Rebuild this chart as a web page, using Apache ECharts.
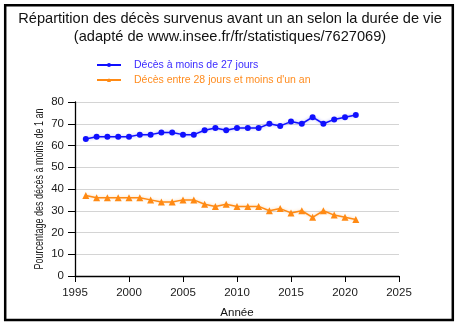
<!DOCTYPE html>
<html>
<head>
<meta charset="utf-8">
<script src="https://cdn.jsdelivr.net/npm/echarts@6/dist/echarts.min.js"></script>
<style>
  html, body { margin: 0; padding: 0; background: #fff; }
  #chart { width: 460px; height: 331px; }
</style>
</head>
<body>
<div id="chart"></div>
<script>
// Years covered by both series
const years = [1996, 1997, 1998, 1999, 2000, 2001, 2002, 2003, 2004, 2005, 2006, 2007, 2008,
               2009, 2010, 2011, 2012, 2013, 2014, 2015, 2016, 2017, 2018, 2019, 2020, 2021];
// Share (%) of infant deaths occurring before 27 days
const moins27 = [63, 64, 64, 64, 64, 65, 65, 66, 66, 65, 65, 67, 68,
                 67, 68, 68, 68, 70, 69, 71, 70, 73, 70, 72, 73, 74];
// Share (%) of infant deaths between 28 days and one year
const entre28 = [37, 36, 36, 36, 36, 36, 35, 34, 34, 35, 35, 33, 32,
                 33, 32, 32, 32, 30, 31, 29, 30, 27, 30, 28, 27, 26];
const seriesNames = ['Décès à moins de 27 jours', 'Décès entre 28 jours et moins d\'un an'];
const xTicks = [1995, 2000, 2005, 2010, 2015, 2020, 2025];
const yTicks = [0, 10, 20, 30, 40, 50, 60, 70, 80];
const yTitle = 'Pourcentage des décès à moins de 1 an';

const pairs = vals => years.map((y, i) => [y, vals[i]]);
const FONT = '"Liberation Sans", Arial, sans-serif';

const GRID = { left: 75, right: 61, top: 102, bottom: 55 };

const chart = echarts.init(document.getElementById('chart'), null, { renderer: 'canvas' });
chart.setOption({
  animation: false,
  backgroundColor: '#fff',
  title: {
    text: 'Répartition des décès survenus avant un an selon la durée de vie\n(adapté de www.insee.fr/fr/statistiques/7627069)',
    left: 'center',
    top: 5,
    textStyle: { fontFamily: FONT, fontSize: 14.6, fontWeight: 'normal', color: '#111', lineHeight: 18 }
  },
  legend: {
    orient: 'vertical',
    left: 91,
    top: 54,
    itemWidth: 24,
    itemHeight: 5,
    itemGap: 3,
    data: seriesNames.map((n, i) => ({
      name: n,
      textStyle: { color: i === 0 ? '#3b2bff' : '#ff8c1f' }
    })),
    textStyle: { fontFamily: FONT, fontSize: 10.5, lineHeight: 12, padding: [0, 0, 0, 8] }
  },
  grid: Object.assign({ containLabel: false }, GRID),
  xAxis: {
    type: 'value',
    min: xTicks[0],
    max: xTicks[xTicks.length - 1],
    interval: 5,
    name: 'Année',
    nameLocation: 'middle',
    nameGap: 31,
    nameTextStyle: { fontFamily: FONT, fontSize: 11.5, color: '#111' },
    axisLine: { lineStyle: { color: '#000', width: 1.3 } },
    axisTick: { length: 6, lineStyle: { color: '#000' } },
    axisLabel: { fontFamily: FONT, fontSize: 11.5, color: '#1a1a1a', margin: 11,
                 formatter: v => String(v) },
    splitLine: { show: false }
  },
  yAxis: {
    type: 'value',
    min: yTicks[0],
    max: yTicks[yTicks.length - 1],
    interval: 10,
    axisLine: { show: true, lineStyle: { color: '#000', width: 1.3 } },
    axisTick: { show: true, length: 7, lineStyle: { color: '#000' } },
    axisLabel: { fontFamily: FONT, fontSize: 11.5, color: '#1a1a1a', margin: 11 },
    splitLine: { show: true, lineStyle: { color: '#d4d4d4', width: 1 } }
  },
  series: [
    {
      name: seriesNames[0],
      type: 'line',
      data: pairs(moins27),
      color: '#1010ff',
      symbol: 'circle',
      symbolSize: 6,
      lineStyle: { width: 1.5, color: '#1010ff', shadowColor: 'rgba(40,40,255,0.45)', shadowBlur: 3 },
      itemStyle: { color: '#1010ff' }
    },
    {
      name: seriesNames[1],
      type: 'line',
      data: pairs(entre28),
      color: '#ff8a14',
      symbol: 'triangle',
      symbolSize: 7,
      lineStyle: { width: 1.5, color: '#ff8a14', shadowColor: 'rgba(255,150,40,0.45)', shadowBlur: 3 },
      itemStyle: { color: '#ff8a14' }
    }
  ],
  graphic: [
    {
      // condensed vertical axis title
      type: 'text',
      x: 40,
      y: (GRID.top + (331 - GRID.bottom)) / 2,
      rotation: Math.PI / 2,
      scaleX: 0.72,
      style: {
        text: yTitle,
        fontFamily: FONT,
        fontSize: 12.5,
        fill: '#222',
        align: 'center',
        verticalAlign: 'middle'
      },
      silent: true
    },
    {
      type: 'rect',
      shape: { x: 5.2, y: 5.2, width: 447.6, height: 314.8 },
      style: { fill: 'none', stroke: '#000', lineWidth: 2.5 },
      silent: true
    }
  ]
});
</script>
</body>
</html>
